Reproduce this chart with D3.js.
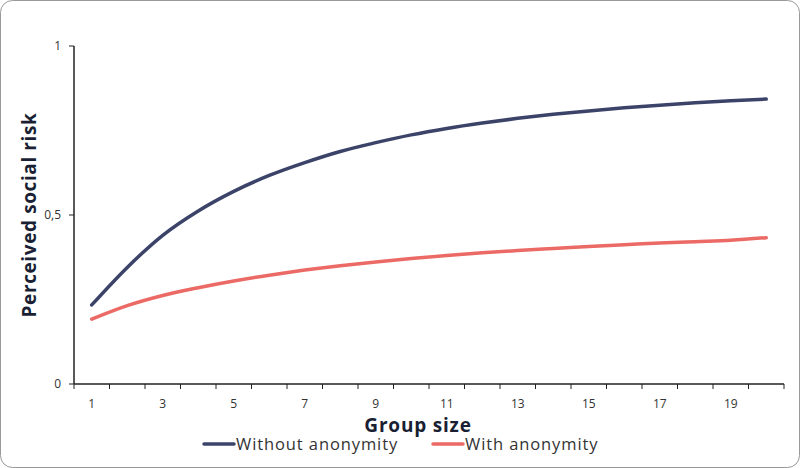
<!DOCTYPE html>
<html><head><meta charset="utf-8">
<script src="https://cdn.jsdelivr.net/npm/d3@7"></script>
<style>body{margin:0;background:#fff;font-family:"Open Sans",sans-serif;}</style>
</head><body>
<script>
var groupSizes = d3.range(1, 21);
var withoutAnon = [0.234,0.345,0.44,0.512,0.57,0.617,0.655,0.688,0.714,0.737,0.756,0.772,0.786,0.798,0.808,0.817,0.825,0.832,0.838,0.843];
var withAnon = [0.192,0.232,0.262,0.285,0.305,0.322,0.337,0.35,0.361,0.371,0.38,0.388,0.395,0.401,0.407,0.412,0.417,0.421,0.425,0.433];
var yTicks = [0, 0.5, 1];

var svg = d3.select("body").append("svg").attr("width", 800).attr("height", 468);
svg.append("rect").attr("x", 0.5).attr("y", 0.5).attr("width", 799).attr("height", 467)
    .attr("rx", 12).attr("fill", "#fff").attr("stroke", "#999");

var x = d3.scaleBand().domain(groupSizes).range([74, 784]);
var y = d3.scaleLinear().domain([0, 1]).range([384, 46]);

//x axis with ticks between categories
var xg = svg.append("g").attr("transform", "translate(0,384)");
xg.append("line").attr("x1", 74).attr("x2", 784).attr("stroke", "#222").attr("stroke-width", 1.5);
xg.selectAll(".tk").data(d3.range(0, 21)).join("line")
    .attr("x1", function (i) { return 74 + i * x.step(); })
    .attr("x2", function (i) { return 74 + i * x.step(); })
    .attr("y1", 0).attr("y2", 5).attr("stroke", "#222");
xg.selectAll("text").data(groupSizes.filter(function (d) { return d % 2 === 1; })).join("text")
    .attr("x", function (d) { return x(d) + x.bandwidth() / 2; })
    .attr("y", 24).attr("text-anchor", "middle").attr("font-size", 12).attr("fill", "#333")
    .text(function (d) { return d; });

//y axis
var yg = svg.append("g");
yg.append("line").attr("x1", 74).attr("x2", 74).attr("y1", 46).attr("y2", 384).attr("stroke", "#222").attr("stroke-width", 1.5);
yg.selectAll(".tk").data(yTicks).join("line")
    .attr("x1", 69).attr("x2", 74).attr("y1", y).attr("y2", y).attr("stroke", "#222");
yg.selectAll("text").data(yTicks).join("text")
    .attr("x", 61).attr("y", function (d) { return y(d) + 4; })
    .attr("text-anchor", "end").attr("font-size", 12).attr("fill", "#333")
    .text(function (d) { return String(d).replace(".", ","); });

var line = d3.line()
    .x(function (d, i) { return x(groupSizes[i]) + x.bandwidth() / 2; })
    .y(function (d) { return y(d); })
    .curve(d3.curveMonotoneX);

svg.append("path").datum(withoutAnon).attr("d", line).attr("fill", "none")
    .attr("stroke", "#3b4468").attr("stroke-width", 3.5).attr("stroke-linecap", "round");
svg.append("path").datum(withAnon).attr("d", line).attr("fill", "none")
    .attr("stroke", "#ec6a66").attr("stroke-width", 3.5).attr("stroke-linecap", "round");

//axis titles
svg.append("text").attr("x", 418).attr("y", 432).attr("text-anchor", "middle")
    .attr("font-size", 19).attr("font-weight", "bold").attr("letter-spacing", 0.8).attr("fill", "#1a1f33").text("Group size");
svg.append("text").attr("transform", "translate(36,215) rotate(-90)").attr("text-anchor", "middle")
    .attr("font-size", 19).attr("font-weight", "bold").attr("letter-spacing", 0.6).attr("fill", "#1a1f33").text("Perceived social risk");

//legend
var legend = [["Without anonymity", "#3b4468", 204], ["With anonymity", "#ec6a66", 433]];
legend.forEach(function (l) {
    svg.append("line").attr("x1", l[2]).attr("x2", l[2] + 30).attr("y1", 444).attr("y2", 444)
        .attr("stroke", l[1]).attr("stroke-width", 3.5).attr("stroke-linecap", "round");
    svg.append("text").attr("x", l[2] + 32).attr("y", 450).attr("font-size", 16.5)
        .attr("letter-spacing", 0.9).attr("fill", "#333").text(l[0]);
});
</script>
</body></html>
